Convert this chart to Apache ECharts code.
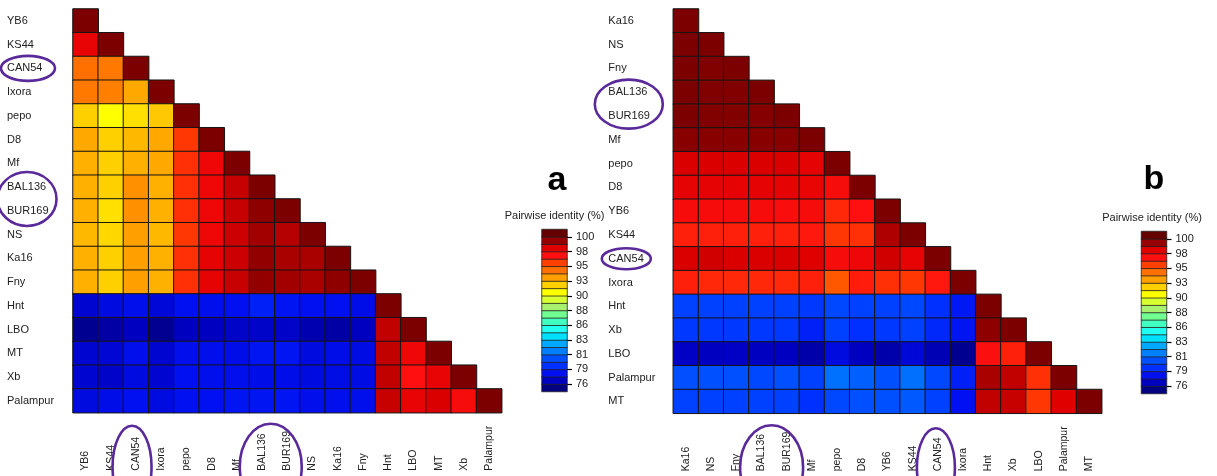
<!DOCTYPE html>
<html>
<head>
<meta charset="utf-8">
<script src="https://cdn.jsdelivr.net/npm/echarts@6/dist/echarts.min.js"></script>
<style>
html,body{margin:0;padding:0;background:#fff;}
#chart{width:1217px;height:476px;}
</style>
</head>
<body>
<div id="chart"></div>
<script>
// ---------------- data ----------------
const isolatesA = ['YB6','KS44','CAN54','Ixora','pepo','D8','Mf','BAL136','BUR169','NS','Ka16','Fny','Hnt','LBO','MT','Xb','Palampur'];
const identityA = [
  [100],
  [97.9,100],
  [94.6,94.4,100],
  [94.4,94.2,93.2,100],
  [92.2,91.0,91.8,92.4,100],
  [93.2,92.2,92.8,93.2,96.0,100],
  [93.0,92.2,93.0,93.2,96.2,97.7,100],
  [93.0,92.2,93.8,93.0,96.2,97.7,98.6,100],
  [93.0,91.8,93.8,93.0,96.2,97.7,98.6,99.6,100],
  [92.8,92.0,93.4,92.8,96.0,97.7,98.5,99.2,98.9,100],
  [93.0,92.2,93.4,93.0,96.2,98.0,98.5,99.5,99.1,99.1,100],
  [93.0,92.2,93.4,93.0,96.2,98.0,98.6,99.5,99.2,99.1,99.6,100],
  [77.0,77.4,77.7,77.2,77.8,77.7,77.8,78.4,78.0,77.8,77.8,77.6,100],
  [75.7,76.1,76.6,75.7,76.6,76.6,76.8,76.8,76.8,76.3,76.1,76.6,98.7,100],
  [77.0,77.1,77.7,77.0,77.7,77.7,77.6,78.0,78.0,77.4,77.6,77.5,98.7,97.7,100],
  [77.0,76.8,77.4,77.0,77.8,77.7,77.7,77.6,77.6,77.4,77.5,77.5,98.7,97.0,97.9,100],
  [77.4,77.6,77.8,77.4,77.8,77.8,78.0,78.0,78.0,77.7,77.7,77.7,98.6,97.9,98.3,97.3,100]
];

const isolatesB = ['Ka16','NS','Fny','BAL136','BUR169','Mf','pepo','D8','YB6','KS44','CAN54','Ixora','Hnt','Xb','LBO','Palampur','MT'];
const identityB = [
  [100],
  [100,100],
  [100,99.9,100],
  [100,99.9,99.9,100],
  [100,99.9,99.9,99.8,100],
  [99.7,99.7,99.7,99.7,99.7,100],
  [98.3,98.3,98.3,98.3,98.3,98.0,100],
  [98.0,98.0,98.0,98.0,98.0,97.8,97.3,100],
  [97.3,97.3,97.3,97.3,97.2,97.3,96.4,97.0,100],
  [96.6,96.6,96.6,96.6,96.6,96.8,96.0,96.2,99.0,100],
  [98.3,98.45,98.3,98.3,98.3,98.2,97.3,97.7,98.45,98.0,100],
  [96.6,96.4,96.4,96.4,96.4,96.6,95.2,96.7,96.2,96.0,96.8,100],
  [79.6,79.6,79.6,79.6,79.6,79.3,79.9,79.6,79.6,79.9,79.0,78.1,100],
  [79.3,79.3,79.3,79.3,79.3,78.4,79.6,79.0,79.3,79.6,78.7,78.0,99.6,100],
  [76.7,76.6,76.7,76.6,76.6,76.2,77.4,76.6,76.2,77.2,76.4,75.7,97.1,96.6,100],
  [80.2,80.2,80.2,79.9,80.2,79.6,81.0,80.6,80.2,81.0,79.9,78.4,99.1,98.7,96.2,100],
  [79.6,79.6,79.6,79.6,79.6,79.0,79.9,80.2,80.2,80.4,79.6,77.8,98.7,98.6,96.0,98.2,100]
];

// colour key: band values (bottom -> top) and tick labels
const keyBands = [75.4,76.6,77.8,79.0,80.2,81.4,82.6,83.8,85.0,86.2,87.4,88.6,89.8,91.0,92.2,93.4,94.6,95.8,97.0,98.2,99.4,100.6];
const keyTickValues = [76,78.4,80.8,83.2,85.6,88,90.4,92.8,95.2,97.6,100];
const keyTickLabels = ['76','79','81','83','86','88','90','93','95','98','100'];
const keyTitle = 'Pairwise identity (%)';
const panelLetters = ['a','b'];

// highlighted isolates (purple rings)
const ringsA = [['CAN54'],['BAL136','BUR169']];
const ringsB = [['BAL136','BUR169'],['CAN54']];

// ---------------- styles ----------------
const palette = ['#000080','#0000c0','#0010f0','#0030ff','#0050ff','#0080ff','#00a8ff','#00e0ff','#20fff0','#40ffc0','#70ff90','#a8f070','#d8ff30','#ffff00','#ffd000','#ffa000','#ff7000','#ff4000','#ff1010','#e00000','#960000','#640000'];
const FONT = '"Liberation Sans", Arial, sans-serif';
const TXT = '#222';
const RING = '#5a2a9a';

function triangle(rows){
  const out = [];
  rows.forEach((r, i) => r.forEach((v, j) => out.push([j, i, v])));
  return out;
}

const G = [
  {left:73, top:9, width:428.7, height:403.7},
  {left:542, top:229.5, width:25, height:162},
  {left:673.3, top:9, width:428.4, height:404.3},
  {left:1141.5, top:231.5, width:25, height:162}
];

function heatX(grid, cats){
  return {type:'category', gridIndex:grid, data:cats, position:'bottom',
    axisLine:{show:false}, axisTick:{show:false}, splitLine:{show:false},
    axisLabel:{interval:0, rotate:90, align:'left', verticalAlign:'middle', padding:[0,0,8,0],
      margin:58, fontFamily:FONT, fontSize:10.5, color:TXT}};
}
function heatY(grid, cats, margin){
  return {type:'category', gridIndex:grid, data:cats, inverse:true,
    axisLine:{show:false}, axisTick:{show:false}, splitLine:{show:false},
    axisLabel:{interval:0, align:'left', margin:margin, fontFamily:FONT, fontSize:11, color:TXT}};
}
function keyX(grid){
  return {type:'category', gridIndex:grid, data:['k'], show:false};
}
function keyYcat(grid){
  return {type:'category', gridIndex:grid, data:keyBands.map(String), show:false};
}
function keyYval(grid){
  return {type:'value', gridIndex:grid, position:'right', min:74.8, max:101.2,
    axisLine:{show:false}, splitLine:{show:false},
    axisTick:{show:true, length:5, customValues:keyTickValues, lineStyle:{color:'#000', width:1.2}},
    axisLabel:{show:true, customValues:keyTickValues, margin:9, fontFamily:FONT, fontSize:11, color:TXT,
      formatter:function(v){
        for (let i=0;i<keyTickValues.length;i++) if (Math.abs(keyTickValues[i]-v)<1e-6) return keyTickLabels[i];
        return '';
      }}};
}

const cellStyle = {borderColor:'#151515', borderWidth:1};

const option = {
  animation:false,
  backgroundColor:'#fff',
  grid:G,
  xAxis:[heatX(0, isolatesA), keyX(1), heatX(2, isolatesB), keyX(3)],
  yAxis:[heatY(0, isolatesA, 66), keyYcat(1), keyYval(1), heatY(2, isolatesB, 65), keyYcat(3), keyYval(3)],
  visualMap:{type:'continuous', show:false, min:75.4, max:100.6, dimension:2,
    seriesIndex:[0,1,2,3], inRange:{color:palette}},
  series:[
    {type:'heatmap', xAxisIndex:0, yAxisIndex:0, data:triangle(identityA), itemStyle:cellStyle, emphasis:{disabled:true}},
    {type:'heatmap', xAxisIndex:1, yAxisIndex:1, data:keyBands.map((v,i)=>[0,i,v]), itemStyle:{borderColor:'#222', borderWidth:0.8}, emphasis:{disabled:true}},
    {type:'heatmap', xAxisIndex:2, yAxisIndex:3, data:triangle(identityB), itemStyle:cellStyle, emphasis:{disabled:true}},
    {type:'heatmap', xAxisIndex:3, yAxisIndex:4, data:keyBands.map((v,i)=>[0,i,v]), itemStyle:{borderColor:'#222', borderWidth:0.8}, emphasis:{disabled:true}}
  ]
};

const chart = echarts.init(document.getElementById('chart'), null, {renderer:'canvas'});
chart.setOption(option);

// ---------------- annotations ----------------
function yPix(axisIdx, name){ return chart.convertToPixel({yAxisIndex:axisIdx}, name); }
function xPix(axisIdx, name){ return chart.convertToPixel({xAxisIndex:axisIdx}, name); }
function avg(a){ return a.reduce((s,v)=>s+v,0)/a.length; }

const gfx = [];
function ring(cx, cy, rx, ry){
  gfx.push({type:'ellipse', shape:{cx:cx, cy:cy, rx:rx, ry:ry}, z:100,
    style:{fill:null, stroke:RING, lineWidth:2.6}});
}
// panel a rings
ring(G[0].left-45, avg(ringsA[0].map(n=>yPix(0,n))), 27, 12.5);
ring(G[0].left-46, avg(ringsA[1].map(n=>yPix(0,n))), 29.5, 27);
ring(avg(ringsA[0].map(n=>xPix(0,n)))-4, G[0].top+G[0].height+54, 19.5, 41);
ring(avg(ringsA[1].map(n=>xPix(0,n)))-4, G[0].top+G[0].height+54, 31, 43);
// panel b rings
ring(G[2].left-44.5, avg(ringsB[0].map(n=>yPix(3,n))), 34, 24.5);
ring(G[2].left-47, avg(ringsB[1].map(n=>yPix(3,n))), 24.5, 10.5);
ring(avg(ringsB[0].map(n=>xPix(2,n)))-2.5, G[2].top+G[2].height+54, 31.5, 42);
ring(avg(ringsB[1].map(n=>xPix(2,n)))-2, G[2].top+G[2].height+54, 19, 39);

// key titles and panel letters
gfx.push({type:'text', x:G[1].left+G[1].width/2, y:216, z:100,
  style:{text:keyTitle, font:'11px '+FONT, fill:TXT, align:'center', verticalAlign:'middle'}});
gfx.push({type:'text', x:G[3].left+G[3].width/2-2, y:218, z:100,
  style:{text:keyTitle, font:'11px '+FONT, fill:TXT, align:'center', verticalAlign:'middle'}});
gfx.push({type:'text', x:557, y:164, z:100,
  style:{text:panelLetters[0], font:'bold 34px '+FONT, fill:'#000', align:'center', verticalAlign:'top'}});
gfx.push({type:'text', x:1154, y:163, z:100,
  style:{text:panelLetters[1], font:'bold 34px '+FONT, fill:'#000', align:'center', verticalAlign:'top'}});

chart.setOption({graphic:gfx});
</script>
</body>
</html>
